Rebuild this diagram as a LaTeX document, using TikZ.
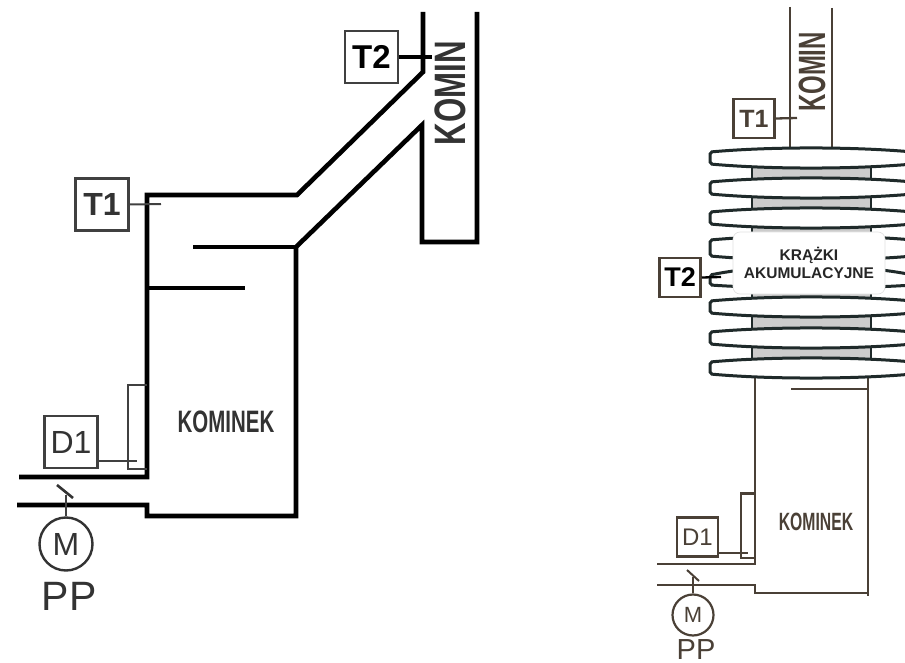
\documentclass[tikz,border=0pt]{standalone}
\usepackage{fontspec}
\setmainfont{Liberation Sans}
\definecolor{brownline}{HTML}{4A4036}
\definecolor{diskline}{HTML}{1F2A2A}
\definecolor{coregray}{HTML}{CCCCCC}
\newcommand{\fsize}[1]{\fontsize{#1}{#1}\selectfont}
\tikzset{
  wall/.style={line width=4.6pt, line join=miter},
  thinwall/.style={line width=2.3pt, brownline},
  probe/.style={line width=2pt, black!75},
  bigbox/.style={draw=black!75, line width=2.6pt, fill=white, inner sep=0pt, minimum width=53pt, minimum height=52pt, text=black!80},
  smallbox/.style={draw=brownline, line width=2.5pt, fill=white, inner sep=0pt, minimum width=41pt, minimum height=39pt, text=brownline},
  disk/.style={draw=diskline, line width=3pt, fill=white, rounded corners=2pt},
  squeezed/.style={font=\bfseries\fsize{#1}, inner sep=0pt}
}
\begin{document}
\begin{tikzpicture}[x=1pt,y=-1pt]
  \useasboundingbox (0,0) rectangle (905,663);
  \clip (0,0) rectangle (905,663);

  % left picture
  \draw[wall] (423,12)--(423,72)--(297,195)--(147,195)--(147,477)--(19,477);
  \draw[wall] (17,505)--(147,505)--(147,516)--(296,516)--(296,247)--(422,125)--(422,242)--(477,242)--(477,12);
  \draw[wall] (193,247)--(296,247);
  \draw[wall] (147,288)--(245,288);
  \node (kominA) at (450,93) [squeezed=44, rotate=90, xscale=.71, text=black!80] {KOMIN};
  \node (kominekA) at (226,422) [squeezed=31, xscale=.66, text=black!80] {KOMINEK};

  \node (tA) at (371.5,57) [bigbox, font=\bfseries\fsize{33}, text=black] {T2};
  \coordinate (tAend) at (432,57);
  \draw[line width=3.2pt] (tA.east)--(tAend);
  \node (tB) at (102,204.5) [bigbox, font=\bfseries\fsize{32}] {T1};
  \coordinate (tBend) at (161,204);
  \draw[probe] (tB.east)--(tBend);

  \draw[probe] (147,385)--(127.5,385)--(127.5,469)--(147,469);
  \node (dA) at (71,442) [bigbox, font=\fsize{32}] {D1};
  \coordinate (dAend) at (137,461);
  \draw[probe] (dA.east |- dAend)--(dAend);

  \node (motorA) at (66,544) [circle, draw=black!80, line width=2.4pt, minimum size=53pt, inner sep=0pt, font=\fsize{32}, text=black!80] {M};
  \coordinate (stemA) at (66,495);
  \draw[probe] (motorA.north)--(stemA);
  \draw[line width=2.6pt, black!80] (57,485)--(73,498);
  \node (ppA) at (69,596) [inner sep=0pt, font=\fsize{41}, text=black!80] {PP};

  % right picture
  \draw[thinwall] (790,7)--(790,147);
  \draw[thinwall] (832,8)--(832,147);
  \draw[thinwall] (755,378)--(755,564)--(657,564);
  \draw[thinwall] (657,585)--(755,585)--(755,593)--(868,593);
  \draw[thinwall] (868,378)--(868,596);
  \draw[thinwall] (791,389)--(868,389);

  \fill[coregray] (752,150) rectangle (871,376);
  \draw[diskline, line width=2.4pt] (752,150)--(752,376);
  \draw[diskline, line width=2.4pt] (871,150)--(871,376);
  \foreach \y/\h/\e/\f in {148/20/4/4, 178/20/4/4, 208/20/4/4, 236/24/4/4, 266/22/9/3, 297/20/4/4, 328/20/4/4, 358/20/4/4}
    \draw[disk] (710,\y+\e) .. controls (770,\y-\e/3) and (852,\y-\e/3) .. (913,\y+\e)
      -- (913,\y+\h-\f) .. controls (852,\y+\h+\f/3) and (770,\y+\h+\f/3) .. (710,\y+\h-\f) -- cycle;

  \node (krazki) at (809,263) [draw=black!12, fill=white, line width=.6pt, rounded corners=7pt, minimum width=152pt, minimum height=62pt, inner sep=0pt, align=center, font=\bfseries\fsize{15.5}, text=black!85] {KRĄŻKI\\[2pt]AKUMULACYJNE};

  \node (kominB) at (812,72) [squeezed=38, rotate=90, xscale=.63, text=brownline] {KOMIN};
  \node (kominekB) at (816,522) [squeezed=25, xscale=.63, text=brownline] {KOMINEK};

  \node (tC) at (754,118.5) [smallbox, font=\bfseries\fsize{25}] {T1};
  \coordinate (tCend) at (797,118);
  \draw[thinwall] (tC.east)--(tCend);
  \node (tD) at (680,277.5) [smallbox, font=\bfseries\fsize{27}, text=black] {T2};
  \coordinate (tDend) at (721,277);
  \draw[thinwall, black] (tD.east)--(tDend);

  \draw[thinwall] (755,493.5)--(741,493.5)--(741,558)--(755,558);
  \node (dB) at (697.5,537) [smallbox, font=\fsize{24}] {D1};
  \coordinate (dBend) at (748,553);
  \draw[thinwall] (dB.east |- dBend)--(dBend);

  \node (motorB) at (693,615) [circle, draw=brownline, line width=2.2pt, minimum size=41pt, inner sep=0pt, font=\fsize{22}, text=brownline] {M};
  \coordinate (stemB) at (693,577);
  \draw[brownline, line width=1.4pt] (motorB.north)--(stemB);
  \draw[brownline, line width=2pt] (687,570)--(699,581);
  \node (ppB) at (696,650) [inner sep=0pt, font=\fsize{29}, text=brownline] {PP};
\end{tikzpicture}
\end{document}
